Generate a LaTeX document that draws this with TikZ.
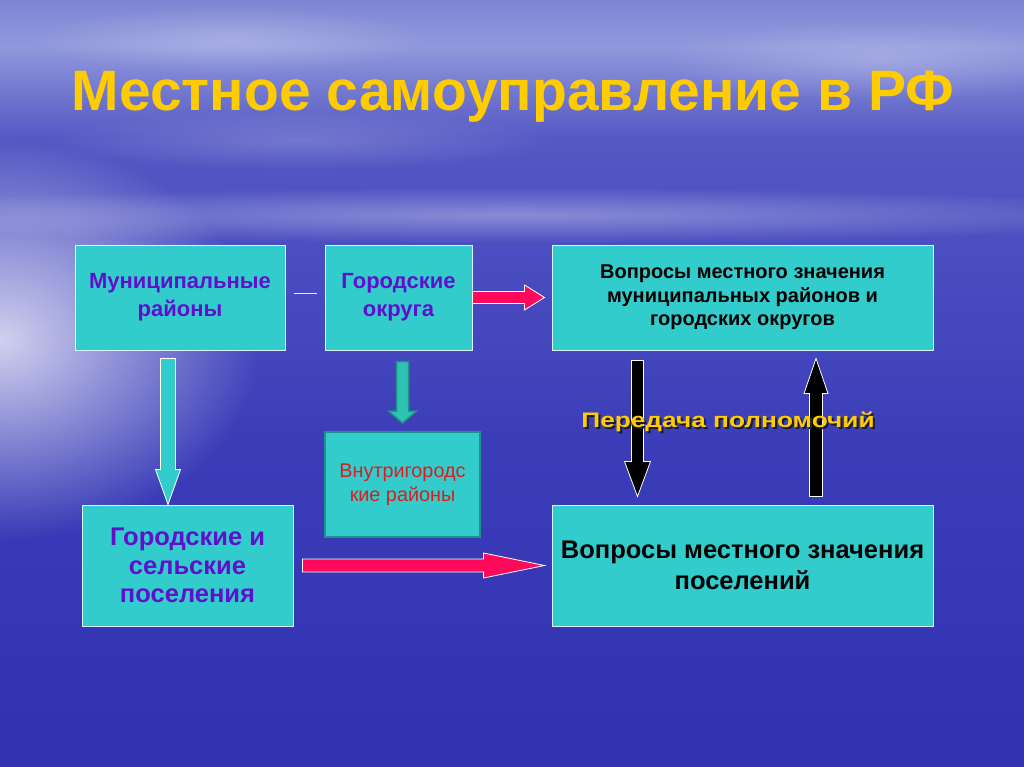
\documentclass[tikz,border=0pt]{standalone}
\usepackage{fontspec}
\setmainfont{Liberation Sans}
\usepackage{tikz}
\usetikzlibrary{
    calc,
    fadings
}
\definecolor{skytop}  {HTML}{5256C2}
\definecolor{skymid}  {HTML}{5A5EC8}
\definecolor{skylow}  {HTML}{7880D2}
\definecolor{horizon} {HTML}{9098DC}
\definecolor{seahigh} {HTML}{5458C4}
\definecolor{sealow}  {HTML}{3A3CB8}
\definecolor{seamid}  {HTML}{3030AE}
\definecolor{seabot}  {HTML}{2A28A6}
\definecolor{boxfill} {HTML}{33CCCC}
\definecolor{boxedge} {HTML}{D8F4F4}
\definecolor{unitink} {HTML}{6010CC}
\definecolor{titlegold}{HTML}{FFCC00}
\definecolor{redink}  {HTML}{DA1E1E}
\definecolor{tealedge}{HTML}{1E9488}
\definecolor{tealfill}{HTML}{2EC2B4}
\definecolor{pinkred} {HTML}{FF0A5A}
\definecolor{shadowc} {HTML}{1A1A30}

\pgfdeclareverticalshading{seasky}{100bp}{%
    color(0bp)=(seabot); color(22bp)=(seamid); color(45bp)=(sealow);
    color(66bp)=(seahigh); color(72bp)=(horizon); color(76bp)=(skylow);
    color(87bp)=(skymid); color(100bp)=(skytop)}
\tikzfading[name=glow, inner color=transparent!25, outer color=transparent!100]

% block arrow: style, from, to, half shaft, half head, head length
\newcommand{\blockarrow}[6]{%
    \draw[#1] ($(#2)!#4!90:(#3)$) -- ($(#3)!#6!(#2)!#4!90:(#3)$)
        -- ($(#3)!#6!(#2)!#5!90:(#3)$) -- (#3)
        -- ($(#3)!#6!(#2)!#5!-90:(#3)$) -- ($(#3)!#6!(#2)!#4!-90:(#3)$)
        -- ($(#2)!#4!-90:(#3)$) -- cycle;}
\newcommand{\shadowed}[1]{%
    \makebox[0pt][l]{\kern1.6pt\raisebox{-1.6pt}{\textcolor{shadowc}{#1}}}#1}

\begin{document}
\begin{tikzpicture}[
    x=1pt, y=-1pt,
    line join=miter,
    %% --- boxes ---
    unitbox/.style     = {rectangle, draw=boxedge, fill=boxfill, line width=1pt,
                          align=center, inner sep=2pt, text=unitink,
                          font=\fontsize{22}{28}\selectfont\bfseries},
    issuebox/.style    = {unitbox, text=black},
    districtbox/.style = {rectangle, draw=tealedge, fill=boxfill, line width=2pt,
                          align=center, inner sep=2pt, text=redink,
                          font=\fontsize{19.8}{24}\selectfont},
    %% --- block arrows ---
    pinkarrow/.style   = {fill=pinkred, draw=white, line width=0.8pt},
    cyanarrow/.style   = {fill=boxfill, draw=white, line width=0.8pt},
    tealarrow/.style   = {fill=tealfill, draw=tealedge, line width=1.5pt},
    blackarrow/.style  = {fill=black, draw=white, line width=0.8pt}
]

%% =====================================================
%% Background: sky and sea
%% =====================================================
\useasboundingbox (0,0) rectangle (1024,767);
\shade[shading=seasky] (0,0) rectangle (1024,767);
\fill[white, path fading=glow] (0,340) ellipse (260 and 200);
\fill[white, path fading=glow, opacity=0.45] (512,215) ellipse (700 and 28);
\fill[white, path fading=glow, opacity=0.3] (230,40) ellipse (200 and 35);
\fill[white, path fading=glow, opacity=0.3] (880,60) ellipse (220 and 40);
\fill[white, path fading=glow, opacity=0.25] (300,140) ellipse (260 and 30);

%% =====================================================
%% Title
%% =====================================================
\node[font=\fontsize{57}{60}\selectfont\bfseries, text=titlegold] (TITLE)
    at (513,97) {Местное самоуправление в РФ};

%% =====================================================
%% Municipal units
%% =====================================================
\node[unitbox, minimum width=210, minimum height=105] (MR) at (180,297.5)
    {Муниципальные\\районы};
\node[unitbox, minimum width=147, minimum height=105] (GO) at (398.5,297.5)
    {Городские\\округа};
\node[districtbox, minimum width=155, minimum height=105] (VR) at (402.5,484.5)
    {Внутригородс\\кие районы};
\node[unitbox, minimum width=211, minimum height=121,
      font=\fontsize{25.5}{28.5}\selectfont\bfseries] (GSP) at (187.5,565.5)
    {Городские и\\сельские\\поселения};

%% =====================================================
%% Local issues
%% =====================================================
\node[issuebox, minimum width=381, minimum height=105,
      font=\fontsize{20}{23.5}\selectfont\bfseries] (VMR) at (742.5,297.5)
    {Вопросы местного значения\\муниципальных районов и\\городских округов};
\node[issuebox, minimum width=381, minimum height=121,
      font=\fontsize{25.5}{30.5}\selectfont\bfseries] (VP) at (742.5,565.5)
    {Вопросы местного значения\\поселений};

%% =====================================================
%% Connectors
%% =====================================================
\draw[draw=boxedge, line width=1pt]
    ([xshift=8pt, yshift=4pt]MR.east) -- ([xshift=-8pt, yshift=4pt]GO.west);

\coordinate (mrS)  at ($(MR.south)+(-12,8)$);
\coordinate (gspN) at (mrS |- GSP.north);
\blockarrow{cyanarrow}{mrS}{gspN}{7.5pt}{12.5pt}{35pt}

\coordinate (goS) at ($(GO.south)+(4,11)$);
\coordinate (vrN) at ($(goS |- VR.north)+(0,-8)$);
\blockarrow{tealarrow}{goS}{vrN}{6pt}{14pt}{12pt}

\coordinate (vmrW) at ($(VMR.west)+(-7,0)$);
\blockarrow{pinkarrow}{GO.east}{vmrW}{6pt}{12.5pt}{20pt}

\coordinate (gspE) at ($(GSP.east)+(9,0)$);
\coordinate (vpW)  at ($(VP.west)+(-7,0)$);
\blockarrow{pinkarrow}{gspE}{vpW}{6.5pt}{12.5pt}{61pt}

% delegation of powers, both ways
\coordinate (downS) at ($(VMR.south)+(-105,10)$);
\coordinate (downE) at ($(downS |- VP.north)+(0,-8)$);
\blockarrow{blackarrow}{downS}{downE}{6pt}{13pt}{35pt}

\coordinate (upS) at ($(VP.north)+(73.5,-8)$);
\coordinate (upE) at ($(upS |- VMR.south)+(0,8)$);
\blockarrow{blackarrow}{upS}{upE}{6.5pt}{12pt}{35pt}

\node[font=\fontsize{21}{24}\selectfont\bfseries, text=titlegold] (PASS)
    at (728,423) {\scalebox{1.25}[1]{\shadowed{Передача полномочий}}};

\end{tikzpicture}
\end{document}
